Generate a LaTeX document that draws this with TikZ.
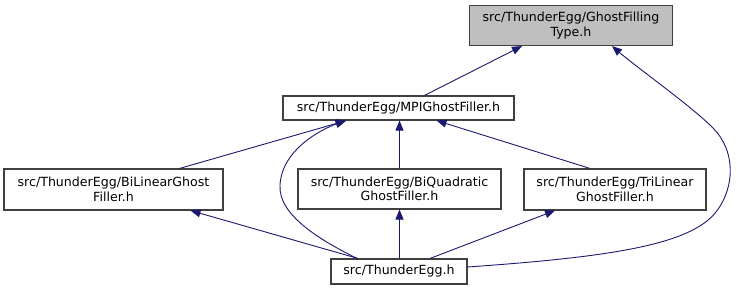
\documentclass[tikz,border=0pt]{standalone}
\usepackage{fontspec}
\setmainfont{DejaVu Sans}
\usepackage{tikz}
\usetikzlibrary{arrows.meta,positioning,calc}
\definecolor{edgeblue}{HTML}{191970}
\definecolor{boxgray}{HTML}{404040}
\definecolor{hlgray}{HTML}{BFBFBF}

\begin{document}
\begin{tikzpicture}[
  x=1pt,y=-1pt,
  file/.style={rectangle,draw=boxgray,line width=1.1pt,fill=white,inner sep=0pt,
    minimum width=#1,align=center,font=\fontsize{12.6}{14.5}\selectfont},
  dep/.style={draw=edgeblue,line width=0.9pt,-{Triangle[length=10pt,width=8pt]}},
]
  \useasboundingbox (0,0) rectangle (737,291);
  % header nodes, one per file
  \node[file=203pt,minimum height=40pt,fill=hlgray] (gft) at (571,25.5) {src/ThunderEgg/GhostFilling\\Type.h};
  \node[file=231pt,minimum height=24pt] (mpi) at (398.5,108) {src/ThunderEgg/MPIGhostFiller.h};
  \node[file=219pt,minimum height=41pt] (bil) at (113.5,189.5) {src/ThunderEgg/BiLinearGhost\\Filler.h};
  \node[file=203pt,minimum height=40pt] (biq) at (399.5,189) {src/ThunderEgg/BiQuadratic\\GhostFiller.h};
  \node[file=182pt,minimum height=41pt] (tril) at (615,189.5) {src/ThunderEgg/TriLinear\\GhostFiller.h};
  \node[file=136pt,minimum height=25pt] (te) at (399,271.5) {src/ThunderEgg.h};

  % include edges
  \draw[dep] ([xshift=26]mpi.north) -- ([xshift=-49]gft.south);
  \draw[dep] ([yshift=4.5]te.east) .. controls (610,257) and (690,245) .. (716,212)
    .. controls (736,186) and (735,150) .. (713,128)
    .. controls (690,105) and (640,70) .. ([xshift=41]gft.south);
  \draw[dep] ([xshift=66]bil.north) -- ([xshift=-52]mpi.south);
  \draw[dep] ([xshift=-42]te.north) .. controls (320,240) and (278,215) .. (280,185)
    .. controls (282,150) and (320,130) .. ([xshift=-53]mpi.south);
  \draw[dep] (biq.north) -- (biq.north |- mpi.south);
  \draw[dep] ([xshift=-25]tril.north) -- ([xshift=38]mpi.south);
  \draw[dep] ([xshift=-41]te.north) -- ([xshift=77]bil.south);
  \draw[dep] (te.north -| biq.south) -- (biq.south);
  \draw[dep] ([xshift=31]te.north) -- ([xshift=-60]tril.south);
\end{tikzpicture}
\end{document}
